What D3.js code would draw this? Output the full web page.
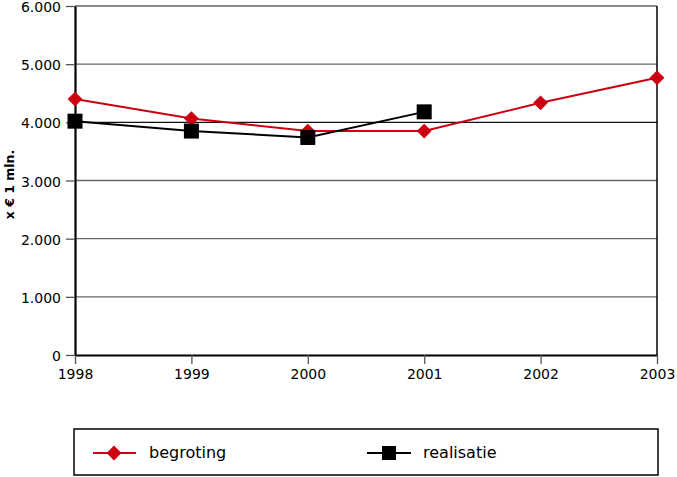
<!DOCTYPE html>
<html><head><meta charset="utf-8">
<script src="https://cdn.jsdelivr.net/npm/d3@7"></script>
<style>body{margin:0;background:#fff}svg{display:block;font-family:"DejaVu Sans",sans-serif}</style>
</head><body><svg id="c" width="677" height="477"></svg>
<script>
const years = [1998, 1999, 2000, 2001, 2002, 2003];
const begroting = [4400, 4065, 3850, 3850, 4335, 4765];
const realisatie = [4020, 3850, 3740, 4180];
const yTicks = [0, 1000, 2000, 3000, 4000, 5000, 6000];
const yLabel = "x € 1 mln.";
const seriesNames = ["begroting", "realisatie"];

const svg = d3.select("#c");
const m = {l: 75, r: 20, t: 6, b: 122};
const W = 677, H = 477;
const x = d3.scaleLinear().domain([1998, 2003]).range([m.l, W - m.r]);
const y = d3.scaleLinear().domain([0, 6000]).range([H - m.b, m.t]);
const fmt = d => d3.format(",")(d).replace(/,/g, ".");
const FF = "DejaVu Sans, sans-serif";

// gridlines
svg.append("g").selectAll("line").data(yTicks.filter(d => d > 0)).join("line")
  .attr("x1", x(1998)).attr("x2", x(2003))
  .attr("y1", d => y(d)).attr("y2", d => y(d))
  .attr("stroke", d => d === 4000 ? "#111" : "#666").attr("stroke-width", 1.3);

// right border
svg.append("line").attr("x1", x(2003)).attr("x2", x(2003)).attr("y1", y(6000)).attr("y2", y(0))
  .attr("stroke", "#000").attr("stroke-width", 1.5);

// y axis
const ya = svg.append("g").attr("transform", `translate(${x(1998)},0)`)
  .call(d3.axisLeft(y).tickValues(yTicks).tickFormat(fmt).tickSize(9).tickSizeOuter(0));
ya.select(".domain").attr("stroke", "#000").attr("stroke-width", 2.2);
ya.selectAll(".tick line").attr("stroke", "#555").attr("stroke-width", 1.3);
ya.selectAll("text").attr("font-size", 14).attr("fill", "#000").attr("x", -14).attr("dy", "0.4em").attr("font-family", FF);

// x axis
const xa = svg.append("g").attr("transform", `translate(0,${y(0)})`)
  .call(d3.axisBottom(x).tickValues(years).tickFormat(d3.format("d")).tickSize(9).tickSizeOuter(0));
xa.select(".domain").attr("stroke", "#000").attr("stroke-width", 2.2);
xa.selectAll(".tick line").attr("stroke", "#555").attr("stroke-width", 1.3);
xa.selectAll("text").attr("font-size", 14).attr("fill", "#000").attr("y", 14).attr("font-family", FF);

// y label
svg.append("text").attr("transform", `translate(14,${y(3000) + 4}) rotate(-90)`)
  .attr("text-anchor", "middle").attr("font-weight", "bold").attr("font-size", 12.5).text(yLabel);

const line = d3.line().x((d, i) => x(years[i])).y(d => y(d));
const red = "#cc0011";
const diamond = d3.symbol().type(d3.symbolDiamond2).size(140);

svg.append("path").datum(begroting).attr("d", line).attr("fill", "none").attr("stroke", red).attr("stroke-width", 2);
svg.append("path").datum(realisatie).attr("d", line).attr("fill", "none").attr("stroke", "#000").attr("stroke-width", 2);

svg.append("g").selectAll("path").data(begroting).join("path")
  .attr("transform", (d, i) => `translate(${x(years[i])},${y(d)})`)
  .attr("d", diamond).attr("fill", red);
svg.append("g").selectAll("rect").data(realisatie).join("rect")
  .attr("x", (d, i) => x(years[i]) - 7.5).attr("y", d => y(d) - 7.5)
  .attr("width", 15).attr("height", 15).attr("fill", "#000");

// legend
const lg = svg.append("g");
lg.append("rect").attr("x", 74).attr("y", 429).attr("width", 584).attr("height", 46)
  .attr("fill", "none").attr("stroke", "#000").attr("stroke-width", 1.5);
const ly = 453;
lg.append("line").attr("x1", 93).attr("x2", 136).attr("y1", ly).attr("y2", ly).attr("stroke", red).attr("stroke-width", 2);
lg.append("path").attr("transform", `translate(114,${ly})`).attr("d", diamond).attr("fill", red);
lg.append("text").attr("x", 149).attr("y", ly + 5).attr("font-size", 16).text(seriesNames[0]);
lg.append("line").attr("x1", 367).attr("x2", 411).attr("y1", ly).attr("y2", ly).attr("stroke", "#000").attr("stroke-width", 2);
lg.append("rect").attr("x", 382).attr("y", ly - 7).attr("width", 14).attr("height", 14).attr("fill", "#000");
lg.append("text").attr("x", 423).attr("y", ly + 5).attr("font-size", 16).text(seriesNames[1]);
</script></body></html>
